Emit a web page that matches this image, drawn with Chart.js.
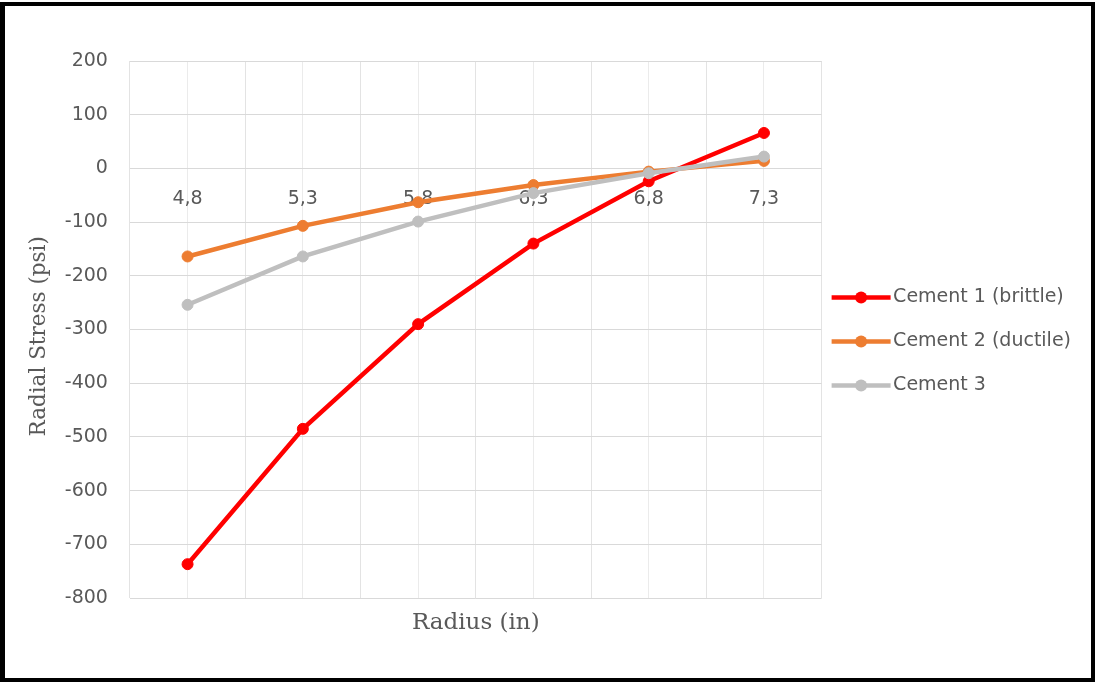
<!DOCTYPE html>
<html><head><meta charset="utf-8">
<script src="https://cdn.jsdelivr.net/npm/chart.js@4.4.1/dist/chart.umd.min.js"></script>
<style>
html,body{margin:0;padding:0;background:#fff;}
#frame{position:absolute;left:0;top:2px;width:1095px;height:680px;box-sizing:border-box;border:4px solid #000;border-left-width:5px;background:#fff;}
#wrap{position:absolute;left:0;top:0;width:1086px;height:672px;}
</style></head><body>
<div id="frame"><div id="wrap"><canvas id="c"></canvas></div></div>
<script>
// ---- data ----
const categories = ['4,8', '5,3', '5,8', '6,3', '6,8', '7,3'];
const cement1 = [-737, -485, -290, -140, -24, 66];
const cement2 = [-164, -107, -63, -31, -6, 14];
const cement3 = [-254, -164, -99, -46, -9, 22];
const seriesNames = ['Cement 1 (brittle)', 'Cement 2 (ductile)', 'Cement 3'];
const seriesColors = ['#FF0000', '#ED7D31', '#BFBFBF'];
const yMin = -800, yMax = 200, yStep = 100;
const xTitle = 'Radius (in)';
const yTitle = 'Radial Stress (psi)  ';

const textColor = '#595959';
const sansFont = 'DejaVu Sans';
const serifFont = 'DejaVu Serif';

const legendSamples = {
  id: 'legendSamples',
  afterDraw(chart) {
    const lg = chart.legend;
    if (!lg || !lg.legendHitBoxes) return;
    const ctx = chart.ctx;
    lg.legendItems.forEach((item, i) => {
      const hb = lg.legendHitBoxes[i];
      const ds = chart.data.datasets[item.datasetIndex];
      const cy = hb.top + hb.height / 2;
      ctx.save();
      ctx.strokeStyle = ds.borderColor;
      ctx.lineWidth = 4.5;
      ctx.beginPath();
      ctx.moveTo(hb.left, cy);
      ctx.lineTo(hb.left + 59, cy);
      ctx.stroke();
      ctx.fillStyle = ds.borderColor;
      ctx.beginPath();
      ctx.arc(hb.left + 29.5, cy, 6, 0, Math.PI * 2);
      ctx.fill();
      ctx.restore();
    });
  }
};

const series = [cement1, cement2, cement3];
const datasets = series.map((vals, i) => ({
  label: seriesNames[i],
  data: vals,
  borderColor: seriesColors[i],
  backgroundColor: seriesColors[i],
  pointBackgroundColor: seriesColors[i],
  pointBorderColor: seriesColors[i],
  borderWidth: 4.5,
  pointRadius: 5.5,
  pointBorderWidth: 1,
  tension: 0,
  order: series.length - i,
  xAxisID: 'x',
  yAxisID: 'y'
}));

new Chart(document.getElementById('c'), {
  type: 'line',
  data: { labels: categories, datasets },
  plugins: [legendSamples],
  options: {
    responsive: true,
    maintainAspectRatio: false,
    animation: false,
    layout: { padding: { top: 55, left: 18, right: 10, bottom: 56 } },
    plugins: {
      tooltip: { enabled: false },
      legend: {
        position: 'right',
        align: 'center',
        labels: {
          boxWidth: 52,
          boxHeight: 34,
          padding: 10,
          color: textColor,
          font: { family: sansFont, size: 19 },
          sort: (a, b) => a.datasetIndex - b.datasetIndex,
          generateLabels(chart) {
            const items = Chart.defaults.plugins.legend.labels.generateLabels(chart);
            items.forEach(it => { it.fillStyle = 'rgba(0,0,0,0)'; it.strokeStyle = 'rgba(0,0,0,0)'; it.lineWidth = 0; });
            return items;
          }
        }
      }
    },
    scales: {
      x: {
        type: 'category',
        position: { y: 0 },
        offset: true,
        grid: { display: true, offset: false, color: '#EBEBEB', drawTicks: false, lineWidth: 1 },
        border: { display: false },
        ticks: { color: textColor, font: { family: sansFont, size: 19 }, padding: 19, maxRotation: 0 }
      },
      x2: {
        type: 'category',
        position: 'bottom',
        offset: true,
        grid: { display: true, offset: true, color: '#E3E3E3', drawTicks: false },
        border: { display: false },
        ticks: { display: false },
        title: { display: true, text: xTitle, color: textColor, font: { family: serifFont, size: 23 }, padding: { top: 11, bottom: -14.6 } }
      },
      y: {
        type: 'linear',
        min: yMin,
        max: yMax,
        grid: { color: '#D9D9D9', drawTicks: false, lineWidth: 1 },
        border: { display: false },
        ticks: { stepSize: yStep, color: textColor, font: { family: sansFont, size: 19 }, padding: 22 },
        title: { display: true, text: yTitle, color: textColor, font: { family: serifFont, size: 21.5 }, padding: { top: 4, bottom: -10 } }
      }
    }
  }
});
</script>
</body></html>
